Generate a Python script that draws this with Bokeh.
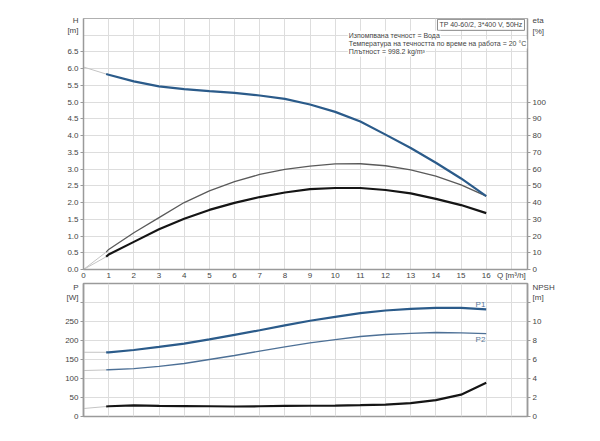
from bokeh.plotting import figure
from bokeh.models import Range1d, LinearAxis, FixedTicker, Label, PrintfTickFormatter
from bokeh.layouts import column
from bokeh.embed import file_html
from bokeh.resources import INLINE

# ---- data ----
q = [0.9, 1, 2, 3, 4, 5, 6, 7, 8, 9, 10, 11, 12, 13, 14, 15, 16]
head = [5.84, 5.82, 5.62, 5.47, 5.39, 5.33, 5.28, 5.20, 5.10, 4.93, 4.71, 4.42, 4.03, 3.63, 3.19, 2.72, 2.19]
eta_pump = [10.4, 12.0, 22.0, 31.0, 40.0, 47.0, 52.5, 56.8, 59.8, 61.8, 63.1, 63.2, 62.0, 59.6, 55.8, 50.6, 43.8]
eta_total = [7.6, 9.0, 16.5, 24.0, 30.3, 35.6, 39.8, 43.3, 46.0, 48.0, 48.7, 48.7, 47.5, 45.5, 42.2, 38.5, 33.7]
p1 = [169, 169, 175, 183, 192, 203, 215, 227, 240, 252, 262, 272, 279, 283, 286, 286, 282]
p2 = [122.5, 123, 126, 132, 139.5, 150, 160.5, 172, 183, 194, 202.5, 210.5, 215.8, 219, 221, 220, 218]
npsh = [1.05, 1.08, 1.17, 1.12, 1.10, 1.08, 1.05, 1.08, 1.12, 1.13, 1.15, 1.19, 1.26, 1.40, 1.72, 2.30, 3.54]

q_ext = [0, 0.9]
head_ext = [6.05, 5.84]
eta_pump_ext = [0, 10.4]
eta_total_ext = [0, 7.6]
p1_ext = [169, 169]
p2_ext = [121, 122.5]
npsh_ext = [0.84, 1.05]

h_ticks = [0, 0.5, 1, 1.5, 2, 2.5, 3, 3.5, 4, 4.5, 5, 5.5, 6, 6.5]
h_grid = h_ticks + [7]
eta_ticks = [0, 10, 20, 30, 40, 50, 60, 70, 80, 90, 100]
q_ticks = list(range(0, 18))
p_ticks = [0, 50, 100, 150, 200, 250]
p_grid = p_ticks + [300]
npsh_ticks = [0, 2, 4, 6, 8, 10]
npsh_minor = npsh_ticks + [12]

h_unit_pos, eta_unit_pos, p_unit_pos, npsh_unit_pos = 7.29, 145.7, 333, 13.2

title_text = "TP 40-60/2, 3*400 V, 50Hz"
info_lines = ["Изпомпвана течност = Вода",
              "Температура на течността по време на работа = 20 °C",
              "Плътност = 998.2 kg/m³"]
info_y = [7.0, 6.74, 6.5]

FONT = "Liberation Sans"
TXT = "#444444"
FS = "8px"
BLUE = "#2b5b8a"
BLUE2 = "#4d7096"
GRID = "#dddddd"
AX = "#9a9a9a"
EXT = "#c4c4c4"


def style_axis(ax, fmt):
    ax.formatter = PrintfTickFormatter(format=fmt)
    ax.axis_line_color = AX
    ax.axis_line_width = 1.5
    ax.major_tick_line_color = None
    ax.major_tick_out = 3
    ax.major_tick_in = 0
    ax.minor_tick_line_color = AX
    ax.minor_tick_out = 3
    ax.minor_tick_in = 0
    ax.major_label_text_font = FONT
    ax.major_label_text_font_size = FS
    ax.major_label_text_color = TXT
    ax.major_label_standoff = 2


def lbl(p, x, y, text, align="left", fs="7px", **kw):
    p.add_layout(Label(x=x, y=y, text=text, text_font=FONT, text_font_size=fs,
                       text_color=TXT, text_align=align, text_baseline="middle", **kw))


# ---------------- top chart ----------------
pt = figure(width=584, height=282, output_backend="svg", toolbar_location=None,
            x_range=Range1d(0, 17.64), y_range=Range1d(0, 7.5),
            min_border_left=83, min_border_right=57, min_border_top=18, min_border_bottom=11,
            background_fill_color="white", border_fill_color="white")
pt.extra_y_ranges = {"eta": Range1d(0, 150)}
pt.outline_line_color = "#b0b0b0"
pt.xgrid.ticker = FixedTicker(ticks=q_ticks)
pt.ygrid.ticker = FixedTicker(ticks=h_grid)
pt.grid.grid_line_color = GRID

pt.xaxis.ticker = FixedTicker(ticks=q_ticks)
style_axis(pt.xaxis[0], "%d")
pt.xaxis.major_label_overrides = {17: "Q [m³/h]"}
pt.xaxis.minor_tick_line_color = None
pt.xaxis.major_tick_out = 0
pt.xaxis.major_label_standoff = 1

pt.yaxis.ticker = FixedTicker(ticks=h_ticks + [h_unit_pos], minor_ticks=h_ticks)
style_axis(pt.yaxis[0], "%.1f")
pt.yaxis.major_label_overrides = {h_unit_pos: "H\n[m]"}

eta_axis = LinearAxis(y_range_name="eta",
                      ticker=FixedTicker(ticks=eta_ticks + [eta_unit_pos], minor_ticks=eta_ticks))
style_axis(eta_axis, "%d")
eta_axis.major_label_overrides = {eta_unit_pos: "eta\n[%]"}
pt.add_layout(eta_axis, "right")

pt.line(q_ext, head_ext, color=EXT, line_width=1)
pt.line(q_ext, eta_pump_ext, color=EXT, line_width=1, y_range_name="eta")
pt.line(q_ext, eta_total_ext, color=EXT, line_width=1, y_range_name="eta")
pt.line(q, eta_pump, color="#5a5a5a", line_width=1.3, y_range_name="eta")
pt.line(q, eta_total, color="#151515", line_width=2.2, y_range_name="eta")
pt.line(q, head, color=BLUE, line_width=2.2)

lbl(pt, 17.52, 7.31, title_text, align="right", background_fill_color="white",
    border_line_color="#888888", padding=2)
for t, yy in zip(info_lines, info_y):
    lbl(pt, 10.5, yy, t, background_fill_color="white", padding=1)

# ---------------- bottom chart ----------------
pb = figure(width=584, height=140, output_backend="svg", toolbar_location=None,
            x_range=pt.x_range, y_range=Range1d(0, 350),
            min_border_left=83, min_border_right=57, min_border_top=1, min_border_bottom=6,
            background_fill_color="white", border_fill_color="white")
pb.extra_y_ranges = {"npsh": Range1d(0, 14)}
pb.outline_line_color = AX
pb.outline_line_width = 1.5
pb.xaxis.visible = False
pb.xgrid.ticker = FixedTicker(ticks=q_ticks)
pb.ygrid.ticker = FixedTicker(ticks=p_grid)
pb.grid.grid_line_color = GRID

pb.yaxis.ticker = FixedTicker(ticks=p_ticks + [p_unit_pos], minor_ticks=p_grid)
style_axis(pb.yaxis[0], "%d")
pb.yaxis.major_label_overrides = {p_unit_pos: "P\n[W]"}

npsh_axis = LinearAxis(y_range_name="npsh",
                       ticker=FixedTicker(ticks=npsh_ticks + [npsh_unit_pos], minor_ticks=npsh_minor))
style_axis(npsh_axis, "%d")
npsh_axis.major_label_overrides = {npsh_unit_pos: "NPSH\n[m]"}
pb.add_layout(npsh_axis, "right")

pb.line(q_ext, p1_ext, color=EXT, line_width=1)
pb.line(q_ext, p2_ext, color=EXT, line_width=1)
pb.line(q_ext, npsh_ext, color=EXT, line_width=1, y_range_name="npsh")
pb.line(q, p1, color=BLUE, line_width=2.2)
pb.line(q, p2, color=BLUE2, line_width=1.3)
pb.line(q, npsh, color="#151515", line_width=2.2, y_range_name="npsh")

for name, yy in (("P1", 296), ("P2", 203)):
    pb.add_layout(Label(x=15.77, y=yy, text=name, text_font=FONT, text_font_size=FS,
                        text_color="#5a7a9a", text_align="center", text_baseline="middle"))

layout = column(pt, pb, spacing=0)
open("out.html", "w").write(file_html(layout, INLINE))
